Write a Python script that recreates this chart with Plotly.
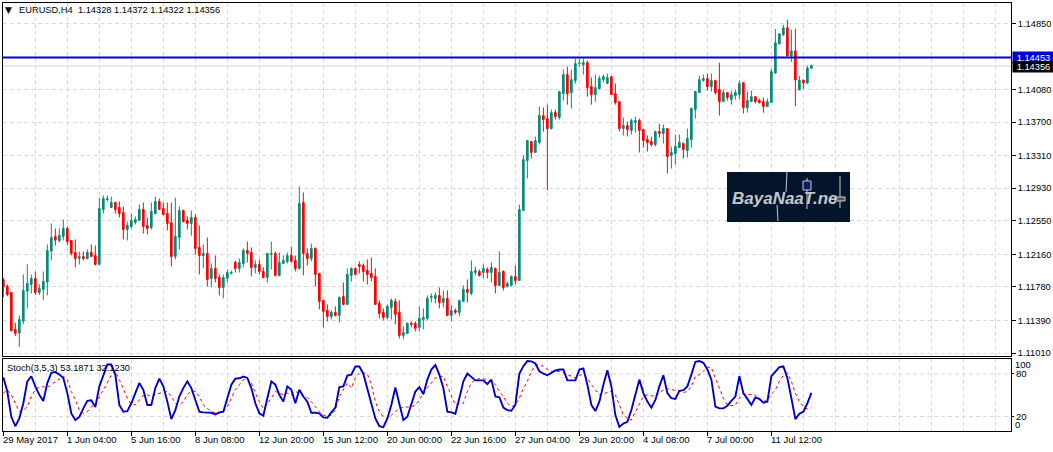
import plotly.graph_objects as go

SYMBOL_TEXT = "EURUSD,H4  1.14328 1.14372 1.14322 1.14356"
STOCH_TEXT = "Stoch(3,5,3) 53.1871 32.1230"
WATERMARK = "BayaNaaT.ne"

opens = [
1.11867,1.11786,1.11716,1.11285,1.11242,1.11382,1.11731,1.11809,1.11879,1.11716,1.11751,1.11836,1.12197,1.12368,1.12321,1.12368,1.12461,1.12321,1.12181,1.12111,
1.12135,1.12111,1.12181,1.12146,1.12042,1.12682,1.12798,1.12705,1.12763,1.12705,1.12647,1.12449,1.12484,1.12530,1.12554,1.12682,1.12496,1.12472,1.12635,1.12775,
1.12693,1.12635,1.12530,1.12135,1.12356,1.12670,1.12554,1.12519,1.12589,1.12240,1.12146,1.12170,1.11879,1.11995,1.11890,1.11774,1.11879,1.11937,1.12065,1.11995,
1.12053,1.12205,1.12181,1.12007,1.12042,1.11960,1.11890,1.12158,1.12170,1.11914,1.12053,1.12077,1.12146,1.12088,1.11995,1.12763,1.12170,1.12111,1.12228,1.11937,
1.11623,1.11506,1.11436,1.11483,1.11448,1.11669,1.11576,1.11914,1.11995,1.12042,1.12030,1.11972,1.11937,1.11902,1.11588,1.11483,1.11425,1.11541,1.11611,1.11483,
1.11215,1.11238,1.11355,1.11355,1.11308,1.11401,1.11413,1.11657,1.11646,1.11681,1.11599,1.11646,1.11448,1.11506,1.11483,1.11611,1.11751,1.11704,1.11948,1.11960,
1.11948,1.11983,1.11948,1.11995,1.11797,1.11960,1.11786,1.11797,1.11902,1.11855,1.12671,1.13253,1.13474,1.13346,1.13462,1.13776,1.13741,1.13625,1.13811,1.13753,
1.14032,1.14254,1.14044,1.14184,1.14382,1.14370,1.14393,1.14114,1.14021,1.14091,1.14195,1.14149,1.14230,1.14032,1.13939,1.13625,1.13660,1.13602,1.13695,1.13718,
1.13613,1.13497,1.13474,1.13439,1.13590,1.13567,1.13625,1.13311,1.13334,1.13404,1.13450,1.13369,1.13497,1.13846,1.14044,1.14184,1.14207,1.14114,1.14184,1.14079,
1.13939,1.14044,1.13963,1.14009,1.14021,1.14160,1.13869,1.13939,1.13997,1.13951,1.13939,1.13881,1.13928,1.14273,1.14612,1.14717,1.14799,1.14472,1.14530,1.14074,
1.14191,1.14156,1.14328]
highs = [
1.11886,1.11809,1.11716,1.11363,1.11448,1.11925,1.12042,1.11925,1.11960,1.11809,1.11960,1.12274,1.12519,1.12461,1.12461,1.12565,1.12484,1.12321,1.12333,1.12193,
1.12193,1.12216,1.12274,1.12263,1.12821,1.12845,1.12845,1.12833,1.12775,1.12775,1.12717,1.12542,1.12635,1.12600,1.12740,1.12763,1.12589,1.12763,1.12833,1.12810,
1.12763,1.12763,1.12763,1.12821,1.12717,1.12682,1.12600,1.12670,1.12624,1.12496,1.12274,1.12356,1.12053,1.12146,1.11925,1.11925,1.11983,1.11972,1.12088,1.12111,
1.12228,1.12309,1.12240,1.12088,1.12100,1.12007,1.12170,1.12309,1.12193,1.12181,1.12146,1.12181,1.12251,1.12146,1.12950,1.12880,1.12228,1.12286,1.12240,1.11937,
1.11623,1.11576,1.11506,1.11553,1.11669,1.11832,1.11995,1.12007,1.12007,1.12077,1.12053,1.12100,1.12123,1.11995,1.11623,1.11529,1.11576,1.11646,1.11646,1.11623,
1.11320,1.11366,1.11378,1.11378,1.11553,1.11529,1.11681,1.11704,1.11716,1.11774,1.11739,1.11739,1.11564,1.11529,1.11623,1.11797,1.11867,1.12088,1.12018,1.11983,
1.12042,1.12007,1.12065,1.12007,1.12193,1.11972,1.11844,1.11914,1.12030,1.12740,1.13311,1.13485,1.13474,1.13532,1.13881,1.13869,1.13904,1.13846,1.13846,1.14056,
1.14312,1.14347,1.14312,1.14440,1.14440,1.14440,1.14417,1.14219,1.14254,1.14242,1.14254,1.14265,1.14230,1.14149,1.13939,1.13753,1.13706,1.13741,1.13765,1.13741,
1.13625,1.13544,1.13532,1.13602,1.13683,1.13672,1.13625,1.13416,1.13555,1.13555,1.13462,1.13625,1.13869,1.14067,1.14242,1.14254,1.14265,1.14265,1.14195,1.14393,
1.14079,1.14044,1.14067,1.14079,1.14184,1.14160,1.14056,1.14067,1.13997,1.13974,1.13986,1.13974,1.14323,1.14784,1.14735,1.14834,1.14893,1.14776,1.14788,1.14238,
1.14191,1.14355,1.14372]
lows = [
1.11661,1.11673,1.11262,1.11207,1.11079,1.11347,1.11529,1.11704,1.11685,1.11685,1.11626,1.11681,1.12088,1.12263,1.12298,1.12321,1.12263,1.12146,1.12007,1.12042,
1.12088,1.12100,1.12135,1.12030,1.12042,1.12635,1.12775,1.12705,1.12635,1.12589,1.12333,1.12321,1.12461,1.12507,1.12554,1.12402,1.12391,1.12449,1.12624,1.12682,
1.12612,1.12437,1.12018,1.12100,1.12216,1.12530,1.12449,1.12379,1.12158,1.11925,1.11995,1.11786,1.11774,1.11832,1.11681,1.11646,1.11832,1.11925,1.11948,1.11948,
1.12007,1.12065,1.11902,1.11937,1.11925,1.11879,1.11832,1.11983,1.11902,1.11902,1.12042,1.12053,1.12065,1.11960,1.11983,1.11914,1.12030,1.12077,1.11786,1.11518,
1.11308,1.11378,1.11401,1.11436,1.11366,1.11564,1.11576,1.11844,1.11914,1.11937,1.11844,1.11809,1.11844,1.11576,1.11413,1.11390,1.11401,1.11401,1.11343,1.11180,
1.11169,1.11238,1.11308,1.11262,1.11262,1.11285,1.11390,1.11599,1.11588,1.11529,1.11541,1.11436,1.11378,1.11460,1.11436,1.11611,1.11599,1.11681,1.11914,1.11902,
1.11879,1.11879,1.11832,1.11704,1.11797,1.11739,1.11774,1.11786,1.11809,1.11855,1.12671,1.13043,1.13276,1.13346,1.13439,1.13590,1.12903,1.13613,1.13730,1.13730,
1.13951,1.13904,1.13858,1.14149,1.14347,1.14254,1.13997,1.13904,1.13939,1.14079,1.14160,1.14149,1.14021,1.13904,1.13590,1.13544,1.13532,1.13555,1.13578,1.13346,
1.13404,1.13357,1.13416,1.13416,1.13520,1.13450,1.13101,1.13159,1.13206,1.13404,1.13276,1.13287,1.13404,1.13741,1.14044,1.14172,1.14067,1.14056,1.14021,1.13776,
1.13939,1.13951,1.13904,1.13963,1.13963,1.13800,1.13811,1.13939,1.13916,1.13916,1.13811,1.13881,1.13928,1.14261,1.14605,1.14706,1.14464,1.14402,1.13887,1.14074,
1.14086,1.14144,1.14322]
closes = [
1.11778,1.11692,1.11269,1.11238,1.11401,1.11739,1.11820,1.11879,1.11716,1.11762,1.11844,1.12205,1.12356,1.12325,1.12379,1.12461,1.12309,1.12170,1.12111,1.12135,
1.12111,1.12181,1.12135,1.12042,1.12693,1.12810,1.12806,1.12763,1.12682,1.12635,1.12449,1.12496,1.12554,1.12565,1.12682,1.12484,1.12461,1.12658,1.12775,1.12682,
1.12624,1.12519,1.12135,1.12368,1.12670,1.12542,1.12519,1.12589,1.12228,1.12146,1.12170,1.11867,1.11995,1.11879,1.11774,1.11890,1.11948,1.11948,1.11995,1.12065,
1.12205,1.12170,1.12007,1.12042,1.11960,1.11890,1.12170,1.12170,1.11914,1.12065,1.12088,1.12146,1.12077,1.11995,1.12752,1.12170,1.12111,1.12228,1.11925,1.11611,
1.11495,1.11436,1.11483,1.11448,1.11657,1.11576,1.11925,1.11995,1.11925,1.12018,1.11960,1.11925,1.11890,1.11576,1.11471,1.11425,1.11553,1.11623,1.11460,1.11215,
1.11250,1.11355,1.11343,1.11297,1.11413,1.11425,1.11646,1.11669,1.11681,1.11599,1.11646,1.11448,1.11506,1.11483,1.11623,1.11751,1.11716,1.11960,1.11972,1.11914,
1.11995,1.11948,1.12007,1.11797,1.11948,1.11774,1.11820,1.11902,1.11855,1.12682,1.13264,1.13485,1.13346,1.13485,1.13776,1.13730,1.13625,1.13811,1.13765,1.14056,
1.14254,1.14032,1.14195,1.14382,1.14389,1.14393,1.14102,1.14021,1.14102,1.14207,1.14230,1.14219,1.14021,1.13928,1.13625,1.13660,1.13613,1.13718,1.13718,1.13602,
1.13485,1.13462,1.13439,1.13590,1.13567,1.13625,1.13299,1.13346,1.13416,1.13462,1.13381,1.13509,1.13858,1.14056,1.14195,1.14207,1.14114,1.14184,1.14044,1.13939,
1.14044,1.13986,1.14021,1.14044,1.14149,1.13869,1.13951,1.13997,1.13939,1.13928,1.13881,1.13939,1.14289,1.14624,1.14729,1.14799,1.14472,1.14530,1.14191,1.14191,
1.14156,1.14331,1.14356]

stoch_main = [
75.2,55.2,19.5,6.2,17.1,38.6,69.5,76.7,62.4,50.5,41.9,67.1,81.4,82.8,79.0,74.3,52.9,24.3,14.8,19.5,31.4,41.9,42.8,33.3,62.4,79.0,93.3,93.3,79.0,36.2,
26.7,27.6,38.6,52.9,67.1,57.6,36.2,36.2,60.0,73.3,62.4,40.9,16.2,29.0,48.1,60.0,69.5,60.0,43.3,26.7,25.7,25.2,25.2,22.9,25.7,26.7,45.7,64.8,73.3,73.8,
76.2,74.3,60.0,38.6,24.3,21.0,45.7,69.5,64.8,50.5,40.9,62.4,57.6,38.6,57.6,48.1,40.9,25.2,25.2,24.3,18.6,18.1,25.7,32.4,61.4,62.4,77.6,
79.0,90.5,90.5,80.0,57.6,36.2,17.1,6.2,4.8,17.1,36.2,60.9,38.6,14.8,19.5,38.6,55.2,61.4,51.4,71.9,86.2,92.4,79.0,60.0,26.7,25.7,23.8,45.7,69.5,80.5,
75.2,70.9,70.9,70.9,65.7,71.9,48.1,47.1,32.4,29.0,28.1,36.2,80.0,90.9,98.1,97.6,94.7,83.8,80.5,78.1,81.4,84.8,86.2,86.2,70.9,70.9,70.9,86.2,87.6,64.8,
36.2,27.6,40.9,64.8,85.2,62.4,21.9,5.3,10.0,12.4,29.0,50.5,71.9,52.9,40.9,32.4,43.3,62.4,78.1,52.9,45.7,44.8,56.2,57.1,62.4,79.0,97.1,98.1,
95.7,86.2,71.9,33.8,31.4,31.4,35.2,41.9,48.1,76.7,52.9,44.8,36.2,46.7,44.8,39.5,40.9,76.7,83.8,89.5,90.5,74.3,45.7,16.2,23.8,26.7,38.6,53.19]
stoch_signal = [
52.9,57.6,50.5,38.6,26.7,29.0,33.8,48.1,57.6,61.4,61.9,60.9,64.8,68.6,73.3,76.7,71.9,55.2,43.3,29.0,24.3,26.7,33.8,36.2,48.1,57.6,67.1,79.0,83.8,71.9,
57.6,45.7,37.2,36.2,43.3,49.5,50.5,48.1,51.4,52.9,54.3,55.2,48.1,38.6,36.2,40.9,50.5,56.2,55.2,48.1,36.2,31.4,26.7,25.2,24.8,26.7,33.8,45.7,57.6,64.8,
71.9,73.3,67.1,52.9,40.9,31.4,38.6,45.7,55.2,52.9,50.5,52.9,50.5,55.2,52.9,48.1,46.7,40.9,33.8,26.7,21.9,20.5,21.9,29.0,48.1,57.6,67.1,
60.0,74.3,81.4,81.4,80.0,64.8,40.9,26.7,19.5,17.1,21.9,26.7,31.4,32.9,32.9,33.8,36.2,43.3,52.9,60.0,67.1,74.3,75.2,76.7,62.4,48.1,36.2,37.6,38.6,55.2,
67.1,71.9,73.3,73.3,71.9,69.5,64.8,55.2,48.1,38.6,33.8,36.2,45.7,60.0,69.5,83.8,91.9,93.3,90.9,86.2,83.8,82.8,83.8,81.4,79.0,76.7,74.3,78.1,79.0,74.3,
64.8,57.6,50.5,51.4,54.3,55.2,50.5,36.2,21.9,17.1,14.8,26.7,38.6,48.1,50.5,49.5,48.1,52.9,57.6,59.0,57.6,56.7,56.2,53.8,55.2,62.4,76.7,79.0,
83.8,89.5,88.6,74.3,60.0,45.7,36.2,35.2,36.2,45.7,51.4,51.4,51.4,50.5,43.3,40.9,43.3,51.4,57.6,69.5,78.1,81.4,69.5,52.9,40.9,33.8,30.5,32.12]

price_ticks = [1.14850, 1.14080, 1.13700, 1.13310, 1.12930, 1.12550, 1.12160, 1.11780, 1.11390, 1.11010]
time_labels = ["29 May 2017", "1 Jun 04:00", "5 Jun 16:00", "8 Jun 08:00", "12 Jun 20:00", "15 Jun 12:00",
               "20 Jun 00:00", "22 Jun 16:00", "27 Jun 04:00", "29 Jun 20:00", "4 Jul 08:00", "7 Jul 00:00", "11 Jul 12:00"]
stoch_levels = [80, 20]
stoch_ticks = [80, 20]
resistance = 1.14453
last_price = 1.14356
lime_bar = 144

W, H = 1053, 452
L, R, T, B = 3, 1011, 3, 431
PW, PH = R - L, B - T
FONT = "Liberation Sans"
GRID = "#d9d9d9"
TEAL = "#0a8a7c"
RED = "#ff0000"

def px(x): return (x - L) / PW
def py(y): return (B - y) / PH

n = len(opens)
xs = list(range(n))
major_x = list(range(0, 193, 16))
minor_x = sorted(set(range(8, 250, 8)) - set(major_x))
x_range = [-0.08, 251.9]

fig = go.Figure()
fig.add_trace(go.Candlestick(
    x=xs, open=opens, high=highs, low=lows, close=closes, xaxis="x", yaxis="y",
    increasing=dict(line=dict(color=TEAL, width=1), fillcolor=TEAL),
    decreasing=dict(line=dict(color=RED, width=1), fillcolor=RED),
    whiskerwidth=0, hoverinfo="skip", showlegend=False))
fig.add_trace(go.Candlestick(
    x=[lime_bar], open=[opens[lime_bar]], high=[highs[lime_bar]], low=[lows[lime_bar]], close=[closes[lime_bar]],
    xaxis="x", yaxis="y",
    increasing=dict(line=dict(color="#00e020", width=1), fillcolor="#00e020"),
    decreasing=dict(line=dict(color="#00e020", width=1), fillcolor="#00e020"),
    whiskerwidth=0, hoverinfo="skip", showlegend=False))
fig.add_trace(go.Scatter(x=xs, y=stoch_signal, xaxis="x2", yaxis="y2", mode="lines",
                         line=dict(color="#ff0000", width=1, dash="dot"), hoverinfo="skip", showlegend=False))
fig.add_trace(go.Scatter(x=xs, y=stoch_main, xaxis="x2", yaxis="y2", mode="lines",
                         line=dict(color="#0000cd", width=1.9), hoverinfo="skip", showlegend=False))

x_common = dict(range=x_range, showline=True, linecolor="black", linewidth=1, mirror=True, automargin=False,
                showgrid=True, gridcolor=GRID, griddash="4px,3px", gridwidth=1, zeroline=False,
                tickmode="array", tickvals=major_x, showticklabels=False, fixedrange=True,
                minor=dict(tickmode="array", tickvals=minor_x, showgrid=True, gridcolor=GRID,
                           griddash="4px,3px", gridwidth=1, ticks="", ticklen=0))
sub_h = (B - 359) / PH
main_low = (B - 356) / PH

shapes = [
    dict(type="line", xref="x domain", x0=0, x1=1, yref="y", y0=last_price, y1=last_price,
         line=dict(color="#d3d3d3", width=1), layer="below"),
    dict(type="line", xref="x domain", x0=0, x1=1, yref="y", y0=resistance, y1=resistance,
         line=dict(color="#0000cd", width=2)),
    dict(type="rect", xref="paper", yref="paper", x0=px(727), x1=px(850), y0=py(222), y1=py(172),
         fillcolor="#03142b", line=dict(width=0)),
]
for lv in stoch_levels:
    shapes.append(dict(type="line", xref="x2 domain", x0=0, x1=1, yref="y2", y0=lv, y1=lv, layer="below",
                       line=dict(color=GRID, width=1, dash="4px,3px")))

ann = []
for i, t in zip(major_x, time_labels):
    ann.append(dict(x=i, xref="x2", yref="paper", y=0, yshift=-1, xanchor="left", yanchor="top", xshift=-2,
                    text=t, showarrow=False, font=dict(family=FONT, size=9.5, color="black")))
ann += [
    dict(xref="paper", yref="paper", x=px(3), y=py(10), text="▼", showarrow=False, xanchor="left", yanchor="middle",
         font=dict(family="DejaVu Sans", size=9, color="black")),
    dict(xref="paper", yref="paper", x=px(16.5), y=py(10), text=SYMBOL_TEXT.replace("  ", "&nbsp;&nbsp;"), showarrow=False,
         xanchor="left", yanchor="middle", font=dict(family=FONT, size=9.3, color="black")),
    dict(xref="paper", yref="paper", x=px(5), y=py(367.5), text=STOCH_TEXT, showarrow=False,
         xanchor="left", yanchor="middle", font=dict(family=FONT, size=9.3, color="black")),
    dict(xref="paper", yref="y", x=1, xshift=1, y=resistance, text="1.14453", showarrow=False,
         xanchor="left", yanchor="middle", bgcolor="#0000cd", borderpad=0, width=41, height=11, align="center",
         font=dict(family=FONT, size=9.3, color="white")),
    dict(xref="paper", yref="y", x=1, xshift=1, y=last_price, yshift=-1, text="1.14356", showarrow=False,
         xanchor="left", yanchor="middle", bgcolor="#000000", borderpad=0, width=41, height=10, align="center",
         font=dict(family=FONT, size=9.3, color="white")),
    dict(xref="paper", yref="y2", x=1, xshift=2, y=100, yshift=-5, text="100", showarrow=False, xanchor="left", yanchor="middle",
         font=dict(family=FONT, size=9.5, color="black")),
    dict(xref="paper", yref="y2", x=1, xshift=2, y=0, yshift=6, text="0", showarrow=False, xanchor="left", yanchor="middle",
         font=dict(family=FONT, size=9.5, color="black")),
    dict(xref="paper", yref="paper", x=px(730), y=py(198), text=f"<b><i>{WATERMARK}</i></b>", showarrow=False,
         xanchor="left", yanchor="middle", font=dict(family="Liberation Sans", size=17, color="#c4c8cc")),
]

# logo details drawn above the logo text
logo = [
    dict(x0=807, x1=807, y0=209, y1=178, kind="line"),
    dict(x0=803, x1=811, y0=190, y1=181, kind="box", fill="#101a6a"),
    dict(x0=840, x1=840, y0=208, y1=176, kind="line"),
    dict(x0=835, x1=845, y0=201, y1=197, kind="box", fill="#50555a"),
    dict(x0=786, x1=787, y0=192, y1=172, kind="line"),
    dict(x0=778, x1=777, y0=221, y1=205, kind="line"),
]
for d in logo:
    if d["kind"] == "line":
        shapes.append(dict(type="line", xref="paper", yref="paper", x0=px(d["x0"]), x1=px(d["x1"]),
                           y0=py(d["y0"]), y1=py(d["y1"]), line=dict(color="#c8ccd0", width=1)))
    else:
        shapes.append(dict(type="rect", xref="paper", yref="paper", x0=px(d["x0"]), x1=px(d["x1"]),
                           y0=py(d["y0"]), y1=py(d["y1"]), fillcolor=d["fill"], line=dict(color="#c8ccd0", width=1)))

fig.update_layout(
    width=W, height=H, margin=dict(l=L, r=W - R, t=T, b=H - B, pad=0, autoexpand=False),
    paper_bgcolor="white", plot_bgcolor="white", boxmode="overlay", boxgap=0.42,
    font=dict(family=FONT, size=10, color="black"), hovermode=False, dragmode=False, showlegend=False,
    xaxis=dict(anchor="y", domain=[0, 1], rangeslider=dict(visible=False), ticks="", **x_common),
    xaxis2=dict(anchor="y2", domain=[0, 1], ticks="outside", ticklen=4, tickcolor="black", tickwidth=1, **x_common),
    yaxis=dict(domain=[main_low, 1], anchor="x", side="right", range=[1.10975, 1.15088], automargin=False,
               tickmode="array", tickvals=price_ticks, ticktext=[f"{v:.5f}" for v in price_ticks],
               ticks="outside", ticklen=4, tickcolor="black", showline=True, linecolor="black", linewidth=1, mirror=True,
               showgrid=True, gridcolor=GRID, griddash="4px,3px", zeroline=False, fixedrange=True,
               tickfont=dict(family=FONT, size=9.3, color="black")),
    yaxis2=dict(domain=[0, sub_h], anchor="x2", side="right", range=[-0.5, 101], automargin=False,
                tickmode="array", tickvals=stoch_ticks, ticktext=[str(v) for v in stoch_ticks],
                ticks="outside", ticklen=2, tickcolor="black", showline=True, linecolor="black", linewidth=1, mirror=True,
                showgrid=False, zeroline=False, fixedrange=True,
                tickfont=dict(family=FONT, size=9.5, color="black")),
    shapes=shapes, annotations=ann,
)
fig.write_html("out.html", config=dict(displayModeBar=False, responsive=False),
               post_script="document.body.style.margin='0';document.documentElement.style.overflow='hidden';")
